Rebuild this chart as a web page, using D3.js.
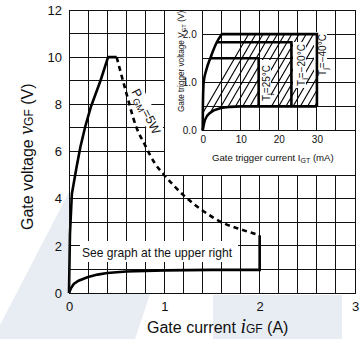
<!DOCTYPE html>
<html>
<head>
<meta charset="utf-8">
<script src="https://cdn.jsdelivr.net/npm/d3@7"></script>
<style>
  html, body { margin: 0; padding: 0; background: #fff; }
  svg { display: block; }
  text { font-family: "Liberation Sans", Arial, Helvetica, sans-serif; fill: #111; }
</style>
</head>
<body>
<svg id="chart" width="361" height="339"></svg>
<script>
// ---- Main chart: gate characteristics ----
const xTicks = [0, 1, 2, 3];
const yTicks = [0, 2, 4, 6, 8, 10, 12];

// Maximum gate voltage curve (solid)
const maxCurveI = [0, 0.01, 0.03, 0.08, 0.12, 0.17, 0.23, 0.33, 0.41, 0.5];
const maxCurveV = [0, 2.5, 4.2, 5.35, 6.2, 7.05, 7.9, 9.0, 10, 10];

// Peak gate power limit PGM = 5 W (dashed)
const pgmI = [0.5, 0.6, 0.7, 0.8, 0.9, 1.0, 1.2, 1.4, 1.6, 1.8, 2.0];
const pgmV = [10, 8.5, 7.1, 6.25, 5.5, 5.0, 4.15, 3.5, 3.0, 2.7, 2.45];

// Minimum gate voltage curve (solid), closed by the 2 A limit
const minCurveI = [0, 0.02, 0.05, 0.1, 0.2, 0.3, 0.4, 0.6, 0.8, 1.0, 1.5, 2.0, 2.0];
const minCurveV = [0, 0.2, 0.38, 0.52, 0.68, 0.78, 0.85, 0.91, 0.94, 0.96, 0.98, 0.98, 2.45];

// ---- Inset: gate trigger region ----
const insetXTicks = [0, 10, 20, 30];
const insetYTicks = [0, 1, 2];

const upperTrigI = [0, 0.05, 0.25, 1.0, 2.0, 3.7, 5.0];
const upperTrigV = [0, 0.5, 1.0, 1.27, 1.5, 1.83, 2.0];

const lowerTrigI = [0, 0.6, 2.0, 4.6, 7.2, 10, 30];
const lowerTrigV = [0, 0.22, 0.37, 0.46, 0.49, 0.5, 0.5];

const tjLabels = ["25°C", "−20°C", "−40°C"];
const tjTopV   = [1.5, 1.83, 2.0];
const tjLeftI  = [2.0, 3.7, 5.0];
const tjRightI = [14.7, 23.3, 30];
const tjBottomV = 0.5;

const svg = d3.select("#chart");

// faint background watermark bands
const wm = svg.append("g").attr("fill", "#e8ecf3");
wm.append("polygon").attr("points", "0,325 69,192 69,294 150,294 135,339 0,339");
wm.append("polygon").attr("points", "213,295 342,295 342,339 213,339");

const x = d3.scaleLinear([0, 3], [69, 355]);
const y = d3.scaleLinear([0, 12], [293, 10]);

// plot background
svg.append("rect")
  .attr("x", x(0)).attr("y", y(12))
  .attr("width", x(3) - x(0)).attr("height", y(0) - y(12))
  .attr("fill", "#fff");

// grid
const grid = svg.append("g").attr("stroke", "#111").attr("stroke-width", 1)
  .attr("shape-rendering", "crispEdges");
grid.selectAll("line.v").data(d3.range(0, 3.0001, 0.2)).join("line")
  .attr("x1", d => x(d)).attr("x2", d => x(d))
  .attr("y1", y(0)).attr("y2", y(12));
grid.selectAll("line.h").data(d3.range(0, 12.0001, 1)).join("line")
  .attr("x1", x(0)).attr("x2", x(3))
  .attr("y1", d => y(d)).attr("y2", d => y(d));

// tick labels
const xAxis = svg.append("g").attr("transform", `translate(0,${y(0)})`)
  .call(d3.axisBottom(x).tickValues(xTicks).tickSize(0).tickPadding(9).tickFormat(d3.format("d")));
xAxis.select(".domain").remove();
xAxis.selectAll("text").style("font-size", "13px").attr("fill", "#111");

const yAxis = svg.append("g").attr("transform", `translate(${x(0)},0)`)
  .call(d3.axisLeft(y).tickValues(yTicks).tickSize(0).tickPadding(7).tickFormat(d3.format("d")));
yAxis.select(".domain").remove();
yAxis.selectAll("text").style("font-size", "13px").attr("fill", "#111");

// curves
const line = d3.line().x(d => x(d[0])).y(d => y(d[1]));
svg.append("path")
  .datum(d3.zip(maxCurveI, maxCurveV))
  .attr("d", line).attr("fill", "none").attr("stroke", "#000").attr("stroke-width", 2.6)
  .attr("stroke-linejoin", "round");
svg.append("path")
  .datum(d3.zip(pgmI, pgmV))
  .attr("d", d3.line().curve(d3.curveMonotoneX).x(d => x(d[0])).y(d => y(d[1])))
  .attr("fill", "none").attr("stroke", "#000").attr("stroke-width", 2.6)
  .attr("stroke-dasharray", "5,4");
svg.append("path")
  .datum(d3.zip(minCurveI, minCurveV))
  .attr("d", line).attr("fill", "none").attr("stroke", "#000").attr("stroke-width", 2.6)
  .attr("stroke-linejoin", "miter");

// "See graph" note
svg.append("rect").attr("x", 80).attr("y", 241).attr("width", 158).attr("height", 21).attr("fill", "#fff");
svg.append("text").attr("x", 82).attr("y", 257)
  .attr("textLength", 150).attr("lengthAdjust", "spacingAndGlyphs")
  .style("font-size", "13px").text("See graph at the upper right");

// PGM label
const pg = svg.append("g").attr("transform", "translate(145,112) rotate(63)");
pg.append("rect").attr("x", -29).attr("y", -9).attr("width", 58).attr("height", 15).attr("fill", "#fff");
const pgt = pg.append("text").attr("text-anchor", "middle").attr("y", 3).style("font-size", "12.5px");
pgt.append("tspan").text("P");
pgt.append("tspan").attr("dy", 3).style("font-size", "9px").text("GM");
pgt.append("tspan").attr("dy", -3).text("=5W");

// axis titles
const xt = svg.append("text").attr("x", 147).attr("y", 333).style("font-size", "16px");
xt.append("tspan").text("Gate current  ");
xt.append("tspan").style("font-family", "'Liberation Serif', serif").style("font-style", "italic")
  .style("font-size", "20px").text("i");
xt.append("tspan").style("font-size", "12px").text("GF");
xt.append("tspan").text(" (A)");

const yt = svg.append("text").attr("transform", "translate(33,230) rotate(-90)").style("font-size", "16px");
yt.append("tspan").text("Gate voltage  ");
yt.append("tspan").style("font-family", "'Liberation Serif', serif").style("font-style", "italic")
  .style("font-size", "20px").text("v");
yt.append("tspan").style("font-size", "12px").text("GF");
yt.append("tspan").text(" (V)");

// ---- Inset ----
svg.append("rect")
  .attr("x", x(1)).attr("y", y(12))
  .attr("width", x(3) - x(1)).attr("height", y(5) - y(12))
  .attr("fill", "#fff");
svg.append("path")
  .attr("d", `M${x(1)},${y(12)}V${y(5)}H${x(3)}`)
  .attr("fill", "none").attr("stroke", "#111").attr("shape-rendering", "crispEdges");

const xi = d3.scaleLinear([0, 40], [202.7, 355]);
const yi = d3.scaleLinear([0, 2.5], [130.5, 10]);

const ig = svg.append("g").attr("stroke", "#111").attr("stroke-width", 1)
  .attr("shape-rendering", "crispEdges");
ig.selectAll("line.v").data(d3.range(0, 40.001, 5)).join("line")
  .attr("x1", d => xi(d)).attr("x2", d => xi(d))
  .attr("y1", yi(0)).attr("y2", yi(2.5));
ig.selectAll("line.h").data(d3.range(0, 2.5001, 0.5)).join("line")
  .attr("x1", xi(0)).attr("x2", xi(40))
  .attr("y1", d => yi(d)).attr("y2", d => yi(d));

// hatched trigger region
const lineI = d3.line().x(d => xi(d[0])).y(d => yi(d[1]));
const upperPts = d3.zip(upperTrigI, upperTrigV);
const lowerPts = d3.zip(lowerTrigI, lowerTrigV);
const regionPts = upperPts
  .concat([[tjRightI[2], tjTopV[2]], [tjRightI[2], tjBottomV]])
  .concat(lowerPts.slice().reverse());
svg.append("clipPath").attr("id", "trig-clip")
  .append("path").attr("d", lineI(regionPts) + "Z");

const hatch = svg.append("g").attr("clip-path", "url(#trig-clip)")
  .attr("stroke", "#000").attr("stroke-width", 1.1);
const yTop = yi(2.1), yBot = yi(0);
const slant = (yBot - yTop) * 0.58;
hatch.selectAll("line").data(d3.range(xi(0) - 10, xi(32), 7.2)).join("line")
  .attr("x1", d => d).attr("y1", yBot)
  .attr("x2", d => d + slant).attr("y2", yTop);

// junction temperature labels (white backing)
const labelX = [266, 301, 322];
const labelY = [83, 65, 55];
tjLabels.forEach((lab, i) => {
  const g = svg.append("g").attr("transform", `translate(${labelX[i]},${labelY[i]}) rotate(-90)`);
  g.append("rect").attr("x", -23).attr("y", -8).attr("width", 46).attr("height", 13).attr("fill", "#fff");
  const t = g.append("text").attr("text-anchor", "middle").attr("y", 3.5).style("font-size", "10px");
  t.append("tspan").text("T");
  t.append("tspan").attr("dy", 2).style("font-size", "7.5px").text("j");
  t.append("tspan").attr("dy", -2).text("=" + lab);
});

// trigger boundaries
const thick = svg.append("g").attr("fill", "none").attr("stroke", "#000").attr("stroke-width", 2.6)
  .attr("stroke-linejoin", "miter");
thick.append("path").datum(upperPts).attr("d", lineI.curve(d3.curveMonotoneX));
thick.append("path").datum(lowerPts).attr("d", d3.line().curve(d3.curveMonotoneX).x(d => xi(d[0])).y(d => yi(d[1])));
tjTopV.forEach((v, i) => {
  thick.append("path").datum([[tjLeftI[i], v], [tjRightI[i], v], [tjRightI[i], tjBottomV]])
    .attr("d", d3.line().x(d => xi(d[0])).y(d => yi(d[1])));
});

// inset tick labels
const ixAxis = svg.append("g").attr("transform", `translate(0,${yi(0)})`)
  .call(d3.axisBottom(xi).tickValues(insetXTicks).tickSize(0).tickPadding(5));
ixAxis.select(".domain").remove();
ixAxis.selectAll("text").style("font-size", "10px").attr("fill", "#111");
const iyAxis = svg.append("g").attr("transform", `translate(${xi(0)},0)`)
  .call(d3.axisLeft(yi).tickValues(insetYTicks).tickSize(0).tickPadding(6));
iyAxis.select(".domain").remove();
iyAxis.selectAll("text").style("font-size", "10px").attr("fill", "#111");

// inset titles
const ixt = svg.append("text").attr("x", 212).attr("y", 161).style("font-size", "9.6px");
ixt.append("tspan").text("Gate trigger current  I");
ixt.append("tspan").attr("dy", 2).style("font-size", "7px").text("GT");
ixt.append("tspan").attr("dy", -2).text(" (mA)");

const iyt = svg.append("text").attr("transform", "translate(184,112) rotate(-90)").style("font-size", "8.2px");
iyt.append("tspan").text("Gate trigger voltage  V");
iyt.append("tspan").attr("dy", 2).style("font-size", "6px").text("GT");
iyt.append("tspan").attr("dy", -2).text(" (V)");

// main frame
svg.append("rect")
  .attr("x", x(0)).attr("y", y(12))
  .attr("width", x(3) - x(0)).attr("height", y(0) - y(12))
  .attr("fill", "none").attr("stroke", "#111").attr("shape-rendering", "crispEdges");
</script>
</body>
</html>
